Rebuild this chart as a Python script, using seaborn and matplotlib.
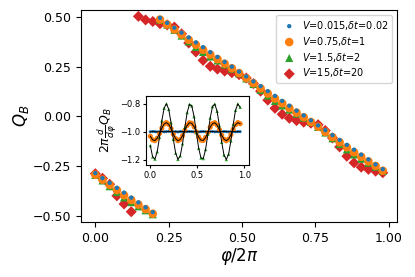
import numpy as np
import pandas as pd
import seaborn as sns
import matplotlib
matplotlib.use("Agg")
import matplotlib.pyplot as plt

# phi / 2pi sampling grid (41 points)
phi = np.linspace(0, 0.98, 41)

q_slow = [-0.285, -0.310, -0.334, -0.359, -0.383, -0.408, -0.432, -0.457, -0.481,
          0.495, 0.470, 0.446, 0.421, 0.397, 0.372, 0.348, 0.323, 0.299, 0.274,
          0.250, 0.225, 0.201, 0.176, 0.152, 0.127, 0.103, 0.078, 0.054, 0.029,
          0.005, -0.020, -0.045, -0.069, -0.094, -0.118, -0.143, -0.167, -0.192,
          -0.216, -0.241, -0.265]
q_mid = [-0.293, -0.318, -0.344, -0.370, -0.396, -0.420, -0.443, -0.466, -0.489,
         0.487, 0.462, 0.437, 0.411, 0.385, 0.360, 0.335, 0.311, 0.288, 0.265,
         0.242, 0.218, 0.193, 0.167, 0.141, 0.115, 0.090, 0.066, 0.042, 0.019,
         -0.004, -0.028, -0.052, -0.078, -0.104, -0.130, -0.155, -0.180, -0.203,
         -0.226, -0.249, -0.273]
q_fast = [-0.294, -0.322, -0.351, -0.380, -0.407, -0.431, -0.452, -0.472, -0.492,
          0.486, 0.462, 0.435, 0.406, 0.377, 0.349, 0.324, 0.301, 0.281, 0.261,
          0.240, 0.217, 0.191, 0.163, 0.133, 0.105, 0.078, 0.055, 0.034, 0.014,
          -0.006, -0.028, -0.053, -0.081, -0.110, -0.139, -0.166, -0.191, -0.213,
          -0.233, -0.253, -0.274]
q_jump = [-0.288, -0.311, -0.341, -0.399, -0.440, -0.479,
          0.503, 0.485, 0.477, 0.466, 0.460, 0.449, 0.415, 0.369, 0.324, 0.282,
          0.252, 0.238, 0.228, 0.220, 0.210, 0.193, 0.165, 0.127, 0.082, 0.041,
          0.011, -0.009, -0.021, -0.029, -0.034, -0.042, -0.071, -0.108, -0.153,
          -0.200, -0.233, -0.255, -0.266, -0.275, -0.283]

labels = [r"$V$=0.015,$\delta t$=0.02", r"$V$=0.75,$\delta t$=1",
          r"$V$=1.5,$\delta t$=2", r"$V$=15,$\delta t$=20"]

# inset: 2pi dQ_B/dphi
phi_in = phi[:40]
dq_slow = [-1.001, -0.999, -1.000, -1.002, -1.000, -0.999, -1.001, -1.000, -0.998, -1.000,
           -1.001, -1.000, -1.002, -0.999, -1.000, -1.001, -1.000, -0.999, -1.000, -1.001,
           -1.000, -1.002, -1.000, -0.999, -1.001, -1.000, -1.000, -0.999, -1.001, -1.000,
           -1.002, -1.000, -0.999, -1.000, -1.001, -1.000, -0.999, -1.001, -1.000, -1.000]
dq_mid = [-1.033, -1.059, -1.064, -1.047, -1.013, -0.975, -0.945, -0.935, -0.948, -0.979,
          -1.018, -1.050, -1.065, -1.056, -1.028, -0.990, -0.955, -0.936, -0.940, -0.965,
          -1.002, -1.039, -1.061, -1.063, -1.042, -1.006, -0.968, -0.942, -0.936, -0.953,
          -0.986, -1.025, -1.054, -1.065, -1.053, -1.022, -0.983, -0.950, -0.935, -0.943]
dq_fast = [-1.100, -1.181, -1.197, -1.144, -1.040, -0.922, -0.831, -0.800, -0.840, -0.936,
           -1.055, -1.154, -1.199, -1.174, -1.087, -0.969, -0.863, -0.804, -0.815, -0.892,
           -1.006, -1.119, -1.189, -1.193, -1.128, -1.018, -0.902, -0.820, -0.802, -0.854,
           -0.957, -1.076, -1.168, -1.200, -1.162, -1.066, -0.948, -0.847, -0.801, -0.825]

colors = ["#1f77b4", "#ff7f0e", "#2ca02c", "#d62728"]

fig = plt.figure(figsize=(4.15, 2.77), dpi=100)
ax = fig.add_axes([0.195, 0.199, 0.762, 0.765])

sns.scatterplot(x=phi, y=q_jump, ax=ax, color=colors[3], marker="D", s=32,
                edgecolor="none", label=labels[3], zorder=2)
sns.scatterplot(x=phi, y=q_fast, ax=ax, color=colors[2], marker="^", s=34,
                edgecolor="none", label=labels[2], zorder=3)
sns.scatterplot(x=phi, y=q_mid, ax=ax, color=colors[1], marker="o", s=38,
                edgecolor="none", label=labels[1], zorder=4)
sns.scatterplot(x=phi, y=q_slow, ax=ax, color=colors[0], marker="o", s=10,
                edgecolor="none", label=labels[0], zorder=5)

ax.set_xlim(-0.049, 1.029)
ax.set_ylim(-0.53, 0.535)
ax.set_xticks([0, 0.25, 0.5, 0.75, 1.0])
ax.set_yticks([-0.5, -0.25, 0, 0.25, 0.5])
ax.tick_params(labelsize=9)
ax.set_xlabel(r"$\varphi/2\pi$", fontsize=12, labelpad=1)
ax.set_ylabel(r"$Q_B$", fontsize=12, labelpad=1)

h, l = ax.get_legend_handles_labels()
ax.legend(h[::-1], l[::-1], loc="upper right", fontsize=7, handletextpad=0.3,
          borderpad=0.4, labelspacing=0.3)

# inset
ins = fig.add_axes([0.352, 0.404, 0.248, 0.249])
for yy, c, m, s in [(dq_slow, colors[0], "o", 5), (dq_mid, colors[1], "o", 14),
                    (dq_fast, colors[2], "^", 6)]:
    sns.scatterplot(x=phi_in, y=yy, ax=ins, color=c, marker=m, s=s,
                    edgecolor="none", zorder=2)
    sns.lineplot(x=phi_in, y=yy, ax=ins, color="k", lw=0.7, zorder=3)

ins.set_xlim(-0.045, 1.05)
ins.set_ylim(-1.24, -0.745)
ins.set_xticks([0, 0.5, 1.0])
ins.set_yticks([-1.2, -1.0, -0.8])
ins.tick_params(labelsize=6, length=2.5, pad=1.5)
ins.set_ylabel(r"$2\pi\frac{d}{d\varphi}Q_B$", fontsize=9, labelpad=1)

fig.savefig("out.png", dpi=100)
